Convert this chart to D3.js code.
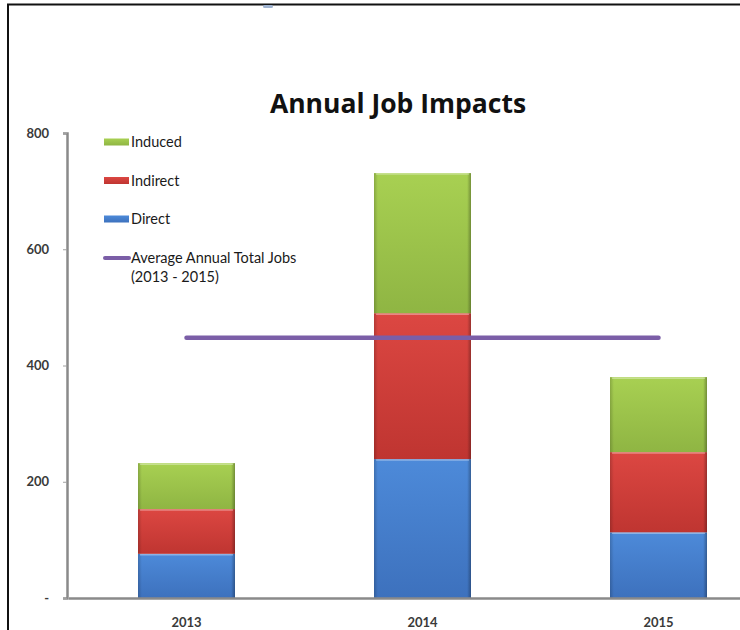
<!DOCTYPE html>
<html>
<head>
<meta charset="utf-8">
<script src="https://cdn.jsdelivr.net/npm/d3@7"></script>
<style>
  html, body { margin: 0; padding: 0; background: #fff; }
  svg { display: block; }
</style>
</head>
<body>
<svg id="chart" width="740" height="630"></svg>
<script>
// Job impacts by year, stacked Direct / Indirect / Induced
const years = ["2013", "2014", "2015"];
const direct = [76, 239, 113];
const indirect = [77, 251, 138];
const induced = [79, 241, 129];
const seriesNames = ["Direct", "Indirect", "Induced"];
const yTicks = [0, 200, 400, 600, 800];
const averageLabel = ["Average Annual Total Jobs", "(2013 - 2015)"];

const totals = years.map((_, i) => direct[i] + indirect[i] + induced[i]);
const averageTotal = d3.mean(totals);

const svg = d3.select("#chart");
const font = "Lato, 'Open Sans', sans-serif";

// frame
svg.append("line").attr("x1", 7).attr("x2", 740).attr("y1", 4.5).attr("y2", 4.5)
  .attr("stroke", "#111").attr("stroke-width", 2);
svg.append("line").attr("x1", 8).attr("x2", 8).attr("y1", 4).attr("y2", 630)
  .attr("stroke", "#111").attr("stroke-width", 2);
svg.append("rect").attr("x", 263).attr("y", 5).attr("width", 10).attr("height", 3)
  .attr("rx", 1.5).attr("fill", "#9fb3d0");

const x = d3.scaleBand().domain(years).range([68.5, 776.5]).paddingInner(0.589).paddingOuter(0.2945);
const y = d3.scaleLinear().domain([0, 800]).range([598, 133]);

// gradients per series
const defs = svg.append("defs");
const palette = {
  Direct:   ["#4d8ad9", "#3d71bd"],
  Indirect: ["#dc4742", "#bf3531"],
  Induced:  ["#a8d052", "#8fb543"]
};
seriesNames.forEach(name => {
  const [top, bottom] = palette[name];
  const g = defs.append("linearGradient").attr("id", "v-" + name)
    .attr("x1", 0).attr("y1", 0).attr("x2", 0).attr("y2", 1);
  g.append("stop").attr("offset", "0%").attr("stop-color", top);
  g.append("stop").attr("offset", "100%").attr("stop-color", bottom);
  const h = defs.append("linearGradient").attr("id", "h-" + name)
    .attr("x1", 0).attr("y1", 0).attr("x2", 1).attr("y2", 0);
  h.append("stop").attr("offset", "0%").attr("stop-color", "#000").attr("stop-opacity", 0.18);
  h.append("stop").attr("offset", "4%").attr("stop-color", "#000").attr("stop-opacity", 0);
  h.append("stop").attr("offset", "96%").attr("stop-color", "#000").attr("stop-opacity", 0);
  h.append("stop").attr("offset", "100%").attr("stop-color", "#000").attr("stop-opacity", 0.3);
});

// axes
const yAxis = d3.axisLeft(y).tickValues(yTicks).tickSize(4).tickPadding(14)
  .tickFormat(d => d === 0 ? "-" : d3.format("d")(d));
const gy = svg.append("g").attr("transform", "translate(67,0)").call(yAxis);
gy.select(".domain").attr("stroke", "#8a8a8a").attr("stroke-width", 2.5);
gy.selectAll(".tick line").attr("stroke", "#a0a0a0");
gy.selectAll(".tick text").attr("font-family", font).attr("font-size", 13)
  .attr("font-weight", "bold").attr("fill", "#3a3a3a");

// stacked bars
const rows = years.map((yr, i) => ({ year: yr, Direct: direct[i], Indirect: indirect[i], Induced: induced[i] }));
const stack = d3.stack().keys(seriesNames)(rows);
const layers = svg.append("g").selectAll("g").data(stack).join("g");
layers.each(function (layer) {
  const g = d3.select(this);
  g.selectAll("rect.fill").data(layer).join("rect").attr("class", "fill")
    .attr("x", d => x(d.data.year)).attr("width", x.bandwidth())
    .attr("y", d => y(d[1])).attr("height", d => y(d[0]) - y(d[1]))
    .attr("fill", "url(#v-" + layer.key + ")");
  g.selectAll("rect.shade").data(layer).join("rect").attr("class", "shade")
    .attr("x", d => x(d.data.year)).attr("width", x.bandwidth())
    .attr("y", d => y(d[1])).attr("height", d => y(d[0]) - y(d[1]))
    .attr("fill", "url(#h-" + layer.key + ")");
  g.selectAll("line.hl").data(layer).join("line").attr("class", "hl")
    .attr("x1", d => x(d.data.year) + 2).attr("x2", d => x(d.data.year) + x.bandwidth() - 2)
    .attr("y1", d => y(d[1]) + 1).attr("y2", d => y(d[1]) + 1)
    .attr("stroke", "#fff").attr("stroke-opacity", 0.35).attr("stroke-width", 1.5);
});

// x axis
const xAxis = d3.axisBottom(x).tickSize(0).tickPadding(20);
const gx = svg.append("g").attr("transform", "translate(0,598)").call(xAxis);
gx.select(".domain").attr("stroke", "#8a8a8a").attr("stroke-width", 2.5);
gx.selectAll(".tick text").attr("font-family", font).attr("font-size", 13)
  .attr("font-weight", "bold").attr("fill", "#3a3a3a");

// average line across the bar centres
const cx = yr => x(yr) + x.bandwidth() / 2;
svg.append("line")
  .attr("x1", cx(years[0])).attr("x2", cx(years[years.length - 1]))
  .attr("y1", y(averageTotal)).attr("y2", y(averageTotal))
  .attr("stroke", "#7b5ea7").attr("stroke-width", 4.5).attr("stroke-linecap", "round");

// title
svg.append("text").attr("x", 398).attr("y", 113).attr("text-anchor", "middle")
  .attr("font-family", "'Open Sans', Lato, sans-serif").attr("font-size", 26.5).attr("font-weight", "bold")
  .attr("fill", "#111").text("Annual Job Impacts");

// legend
const legend = svg.append("g").attr("font-family", font).attr("font-size", 14.5).attr("fill", "#1a1a1a");
const legendItems = ["Induced", "Indirect", "Direct"];
legendItems.forEach((name, i) => {
  const ly = 142 + i * 38.5;
  legend.append("rect").attr("x", 104).attr("y", ly - 3.5).attr("width", 25).attr("height", 7)
    .attr("fill", "url(#v-" + name + ")");
  legend.append("text").attr("x", 131).attr("y", ly + 5).text(name);
});
legend.append("line").attr("x1", 105).attr("x2", 129).attr("y1", 258).attr("y2", 258)
  .attr("stroke", "#7b5ea7").attr("stroke-width", 4).attr("stroke-linecap", "round");
averageLabel.forEach((t, i) => {
  legend.append("text").attr("x", 131).attr("y", 263 + i * 19).text(t);
});
</script>
</body>
</html>
